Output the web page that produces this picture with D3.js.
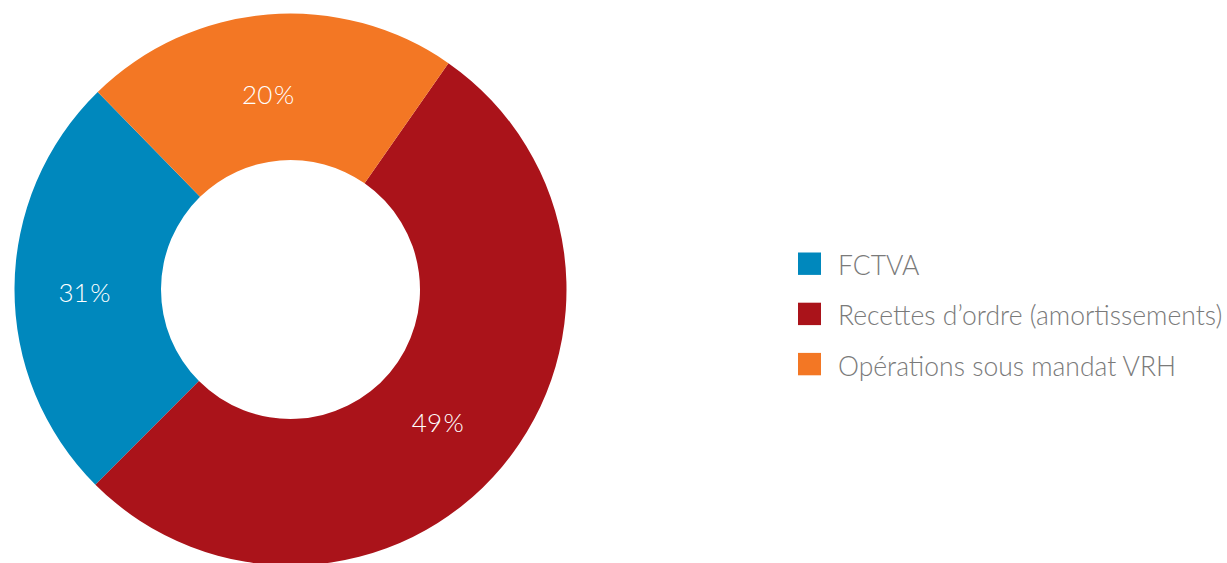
<!DOCTYPE html>
<html>
<head>
<meta charset="utf-8">
<script src="https://cdn.jsdelivr.net/npm/d3@7"></script>
<style>
    body { margin: 0; background: #fff; }
    svg text { font-family: Lato, "Open Sans", sans-serif; font-weight: 300; }
</style>
</head>
<body>
<div id="chart"></div>
<script>
// size setup
var w = 1227;
var h = 563;

// data (slice sizes, labels as printed)
var categories = ["FCTVA", "Recettes d\u2019ordre (amortissements)", "Op\u00e9rations sous mandat VRH"];
var sliceValues = [25.2, 52.8, 22.0];
var sliceLabels = ["31\u200A%", "49\u200A%", "20\u200A%"];
var colors = ["#0088bd", "#aa131a", "#f37724"];

// geometry of the donut
var cx = 290.5, cy = 289.5;
var outerR = 276, innerR = 129.5;
var startDeg = 315.7; // slices run counter-clockwise from here

var svg = d3.select("#chart")
    .append("svg")
    .attr("width", w)
    .attr("height", h);

var data = categories.map((c, i) => ({ cat: c, value: sliceValues[i], label: sliceLabels[i], color: colors[i] }));

var pie = d3.pie()
    .sort(null)
    .value(d => d.value)
    .startAngle(startDeg * Math.PI / 180)
    .endAngle((startDeg - 360) * Math.PI / 180);

var arc = d3.arc()
    .innerRadius(innerR)
    .outerRadius(outerR);

var g = svg.append("g")
    .attr("transform", `translate(${cx},${cy})`);

var arcs = pie(data);

g.selectAll("path")
    .data(arcs)
    .enter()
    .append("path")
    .attr("d", arc)
    .attr("fill", d => d.data.color);

// percentage labels inside slices
var labelArc = d3.arc().innerRadius(200).outerRadius(200);
g.selectAll("text.pct")
    .data(arcs)
    .enter()
    .append("text")
    .attr("class", "pct")
    .attr("x", d => labelArc.centroid(d)[0] - 6)
    .attr("y", d => labelArc.centroid(d)[1] + 5)
    .attr("dy", "0.35em")
    .attr("text-anchor", "middle")
    .attr("fill", "#fff")
    .style("font-size", "26px")
    .text(d => d.data.label);

// legend
var legendY = d3.scalePoint()
    .domain(categories)
    .range([263.7, 364.1]);

var legend = svg.append("g");
var items = legend.selectAll("g")
    .data(data)
    .enter()
    .append("g")
    .attr("transform", d => `translate(798,${legendY(d.cat)})`);

items.append("rect")
    .attr("x", 0)
    .attr("y", -11.2)
    .attr("width", 23)
    .attr("height", 22.4)
    .attr("fill", d => d.color);

items.append("text")
    .attr("x", 40)
    .attr("y", 11.5)
    .attr("fill", "#7a7a7a")
    .style("font-size", "26.5px")
    .text(d => d.cat);
</script>
</body>
</html>
